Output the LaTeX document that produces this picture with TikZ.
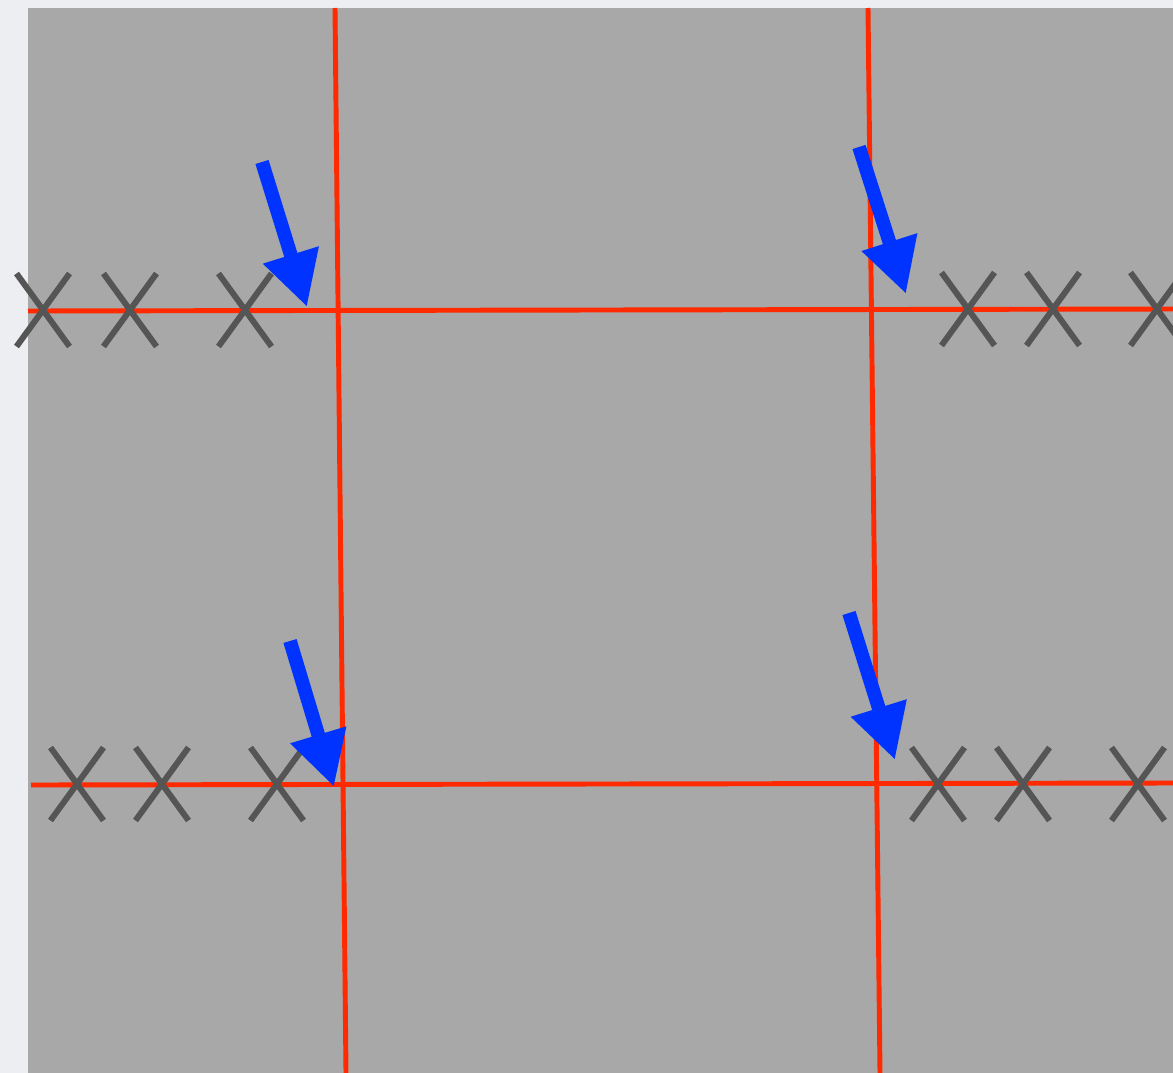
\documentclass[tikz,border=0pt]{standalone}
\usepackage{xcolor}
\usetikzlibrary{arrows.meta, shapes.misc}
\definecolor{PageGray}{HTML}{ECEEF1}
\definecolor{PlateGray}{HTML}{A8A8A8}
\definecolor{CutRed}{HTML}{FF2A00}
\definecolor{MarkGray}{HTML}{555555}
\definecolor{PointBlue}{HTML}{0033FF}

\begin{document}
\begin{tikzpicture}[
    x=0.01cm, y=-0.01cm,
    xmark/.style={cross out, draw=MarkGray, line width=1.7pt,
                  minimum width=0.47cm, minimum height=0.67cm, inner sep=0pt},
    cut/.style={draw=CutRed, line width=1.4pt},
    pointer/.style={-{Triangle[length=15.5pt, width=15.5pt]},
                    draw=PointBlue, line width=3.9pt}
]

% --- Background ---------------------------------------------------------
\useasboundingbox[fill=PageGray] (0,0) rectangle (1173,1073);
\fill[PlateGray] (28,8) rectangle (1173,1073);

% --- Cut lines ----------------------------------------------------------
\coordinate (v1top) at (335,8);   \coordinate (v1bot) at (346,1073);
\coordinate (v2top) at (868,8);   \coordinate (v2bot) at (880,1073);
\coordinate (h1left) at (28,311); \coordinate (h1right) at (1173,309);
\coordinate (h2left) at (31,785); \coordinate (h2right) at (1173,783);

\draw[cut] (v1top)  -- (v1bot);
\draw[cut] (v2top)  -- (v2bot);
\draw[cut] (h1left) -- (h1right);
\draw[cut] (h2left) -- (h2right);

% --- Marks --------------------------------------------------------------
\node[xmark] (ma1) at (43,310)   {};
\node[xmark] (ma2) at (130,310)  {};
\node[xmark] (ma3) at (245,310)  {};
\node[xmark] (mb1) at (968,309)  {};
\node[xmark] (mb2) at (1053,309) {};
\node[xmark] (mb3) at (1157,309) {};
\node[xmark] (mc1) at (77,784)   {};
\node[xmark] (mc2) at (162,784)  {};
\node[xmark] (mc3) at (277,784)  {};
\node[xmark] (md1) at (938,784)  {};
\node[xmark] (md2) at (1023,784) {};
\node[xmark] (md3) at (1138,784) {};

% --- Pointers -----------------------------------------------------------
\coordinate (pa) at (262,162);  \coordinate (ta) at (307,307);
\coordinate (pb) at (859,147);  \coordinate (tb) at (906,294);
\coordinate (pc) at (290,641);  \coordinate (tc) at (334,787);
\coordinate (pd) at (849,613);  \coordinate (td) at (895,760);

\draw[pointer] (pa) -- (ta);
\draw[pointer] (pb) -- (tb);
\draw[pointer] (pc) -- (tc);
\draw[pointer] (pd) -- (td);

\end{tikzpicture}
\end{document}
